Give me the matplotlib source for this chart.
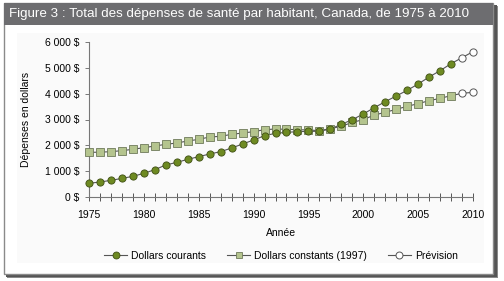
import matplotlib
matplotlib.use("Agg")
import matplotlib.pyplot as plt
from matplotlib.patches import Rectangle
from matplotlib.lines import Line2D

plt.rcParams['font.family'] = ['Liberation Sans', 'DejaVu Sans']

years = list(range(1975, 2009))
current = [530, 580, 645, 720, 800, 916, 1058, 1240, 1340, 1458, 1561, 1665, 1755, 1897,
           2052, 2206, 2374, 2465, 2503, 2529, 2540, 2545, 2632, 2813, 2994, 3213, 3458,
           3690, 3910, 4129, 4374, 4645, 4890, 5161]
constant = [1729, 1735, 1755, 1794, 1845, 1910, 1974, 2039, 2090, 2168, 2232, 2323, 2348,
            2426, 2477, 2529, 2606, 2632, 2620, 2606, 2594, 2568, 2645, 2735, 2890, 2994,
            3174, 3277, 3394, 3510, 3613, 3729, 3819, 3923]
fc_years = [2009, 2010]
fc_current = [5394, 5626]
fc_constant = [4013, 4052]
yticks = [0, 1000, 2000, 3000, 4000, 5000, 6000]
ytick_labels = ['0 $', '1 000 $', '2 000 $', '3 000 $', '4 000 $', '5 000 $', '6 000 $']
legend_labels = ['Dollars courants', 'Dollars constants (1997)', 'Prévision']
title = 'Figure 3 : Total des dépenses de santé par habitant, Canada, de 1975 à 2010'

W, H = 504, 281
fig = plt.figure(figsize=(W / 100, H / 100), dpi=100)

def px(x, y, w, h):
    return (x / W, 1 - (y + h) / H, w / W, h / H)

def rect(x, y, w, h, **kw):
    l, b, ww, hh = px(x, y, w, h)
    fig.patches.append(Rectangle((l, b), ww, hh, transform=fig.transFigure, **kw))

# shadow, frame, title bar, panel
rect(7, 6, 491, 272, facecolor='#8a8a8a', edgecolor='none', zorder=0)
rect(6, 5, 491, 272, facecolor='#555555', edgecolor='none', zorder=0)
rect(4, 3, 489, 271, facecolor='white', edgecolor='#8a8a8a', linewidth=1.0, zorder=1)
rect(4, 3, 489, 22, facecolor='#6d6d70', edgecolor='none', zorder=2)
rect(17, 33, 467, 230, facecolor='#fafafa', edgecolor='none', zorder=2)
fig.text(9 / W, 1 - 14.5 / H, title, color='white', fontsize=9.6,
         va='center', ha='left', zorder=3)

ax = fig.add_axes(px(89, 42, 384, 155))
ax.set_facecolor('none')
ax.set_zorder(5)

line_col = '#555555'
all_years = years + fc_years
ax.plot(all_years, current + fc_current, color=line_col, lw=0.8, zorder=3, clip_on=False)
ax.plot(all_years, constant + fc_constant, color=line_col, lw=0.8, zorder=3, clip_on=False)
ax.plot(years, constant, ls='none', marker='s', ms=5.2, mfc='#b4c48e', mec='#6f7a5a',
        mew=0.6, zorder=4, clip_on=False)
ax.plot(years, current, ls='none', marker='o', ms=5.2, mfc='#6e8a22', mec='#3f4f14',
        mew=0.6, zorder=5, clip_on=False)
ax.plot(fc_years, fc_current, ls='none', marker='o', ms=5.2, mfc='white', mec='#555555',
        mew=0.7, zorder=5, clip_on=False)
ax.plot(fc_years, fc_constant, ls='none', marker='o', ms=5.2, mfc='white', mec='#555555',
        mew=0.7, zorder=5, clip_on=False)

ax.set_xlim(1975, 2010)
ax.set_ylim(0, 6000)
ax.set_xticks(all_years)
ax.set_xticklabels([str(y) if y % 5 == 0 else '' for y in all_years])
ax.set_yticks(yticks)
ax.set_yticklabels(ytick_labels)
for s in ['top', 'right']:
    ax.spines[s].set_visible(False)
for s in ['left', 'bottom']:
    ax.spines[s].set_color('#777777')
    ax.spines[s].set_linewidth(0.8)
ax.tick_params(axis='x', direction='inout', length=6, width=0.7, color='#555555',
               labelsize=7.5, pad=6)
ax.tick_params(axis='y', direction='out', length=3, width=0.7, color='#777777',
               labelsize=7.5, pad=4)
ax.set_xlabel('Année', fontsize=7.5, labelpad=6)
ax.set_ylabel('Dépenses en dollars', fontsize=7.5, labelpad=10)

handles = [
    Line2D([], [], color=line_col, lw=0.8, marker='o', ms=5, mfc='#6e8a22', mec='#3f4f14', mew=0.6),
    Line2D([], [], color=line_col, lw=0.8, marker='s', ms=5, mfc='#b4c48e', mec='#6f7a5a', mew=0.6),
    Line2D([], [], color=line_col, lw=0.8, marker='o', ms=5, mfc='white', mec='#555555', mew=0.7),
]
fig.legend(handles, legend_labels, loc='center', bbox_to_anchor=(281 / W, 1 - 256 / H),
           ncol=3, frameon=False, fontsize=7.5, handlelength=2.2, handletextpad=0.4,
           columnspacing=2.0)

fig.savefig('out.png', dpi=100)
